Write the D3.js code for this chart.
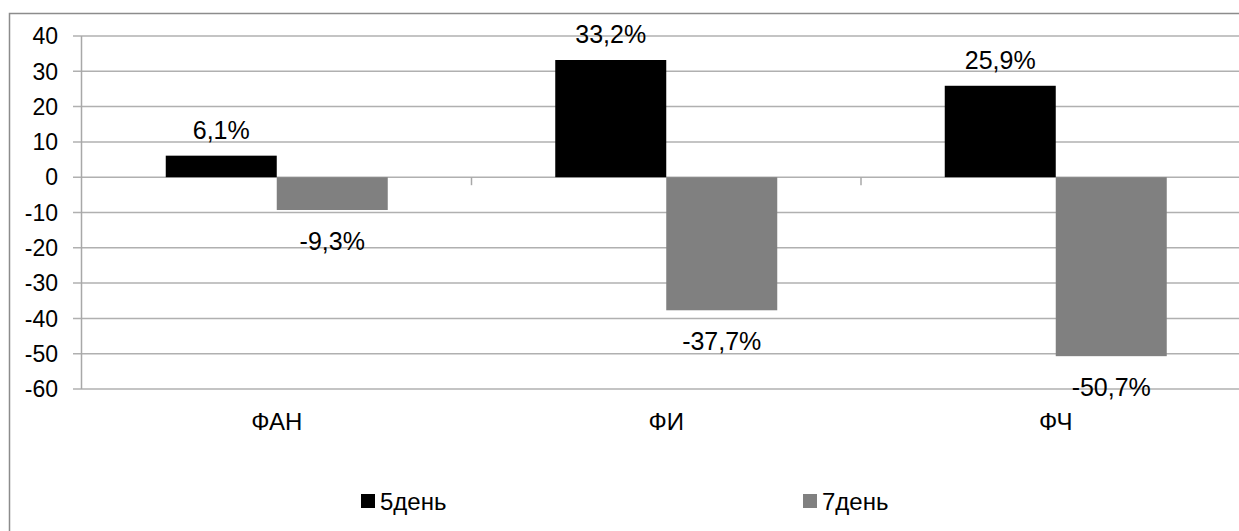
<!DOCTYPE html>
<html>
<head>
<meta charset="utf-8">
<script src="https://cdn.jsdelivr.net/npm/d3@7"></script>
<style>
  html, body { margin: 0; background: #fff; overflow: hidden; }
  svg { display: block; font-family: "Liberation Sans", Arial, sans-serif; }
</style>
</head>
<body>
<div id="chart"></div>
<script>
const categories = ['ФАН', 'ФИ', 'ФЧ'];
const seriesNames = ['5день', '7день'];
const day5 = [6.1, 33.2, 25.9];
const day7 = [-9.3, -37.7, -50.7];
const yTicks = [40, 30, 20, 10, 0, -10, -20, -30, -40, -50, -60];
const colors = ['#000000', '#808080'];

const width = 1239;
const height = 531;

const svg = d3.select('#chart')
  .append('svg')
  .attr('width', width)
  .attr('height', height);

// outer chart frame (right and bottom fall outside the picture)
svg.append('rect')
  .attr('x', 9.5)
  .attr('y', 13.5)
  .attr('width', 1300)
  .attr('height', 600)
  .attr('fill', 'none')
  .attr('stroke', '#8c8c8c')
  .attr('stroke-width', 1.5);

const x0 = d3.scaleBand()
  .domain(categories)
  .range([82, 1250.5]);

// bar pair is 222px wide, centred in each 389.5px band
const x1 = d3.scaleBand()
  .domain(seriesNames)
  .range([(x0.bandwidth() - 222) / 2, (x0.bandwidth() + 222) / 2]);

const y = d3.scaleLinear()
  .domain([-60, 40])
  .range([389, 36]);

// gridlines
svg.append('g')
  .selectAll('line')
  .data(yTicks)
  .join('line')
  .attr('x1', 73)
  .attr('x2', width)
  .attr('y1', d => y(d))
  .attr('y2', d => y(d))
  .attr('stroke', '#b0b0b0')
  .attr('stroke-width', 1.5);

// y axis line
svg.append('line')
  .attr('x1', 81.5).attr('x2', 81.5)
  .attr('y1', y(40)).attr('y2', y(-60))
  .attr('stroke', '#a8a8a8')
  .attr('stroke-width', 1.5);

// y tick labels
svg.append('g')
  .selectAll('text')
  .data(yTicks)
  .join('text')
  .attr('x', 58)
  .attr('y', d => y(d))
  .attr('dy', '0.36em')
  .attr('text-anchor', 'end')
  .attr('font-size', 23)
  .attr('fill', '#000')
  .text(d => d);

// category ticks on zero line
svg.append('g')
  .selectAll('line')
  .data(categories.slice(1))
  .join('line')
  .attr('x1', d => x0(d))
  .attr('x2', d => x0(d))
  .attr('y1', y(0))
  .attr('y2', y(0) + 8)
  .attr('stroke', '#a8a8a8')
  .attr('stroke-width', 1.5);

const rows = categories.map((c, i) => ({
  cat: c,
  vals: [
    { key: seriesNames[0], v: day5[i], color: colors[0] },
    { key: seriesNames[1], v: day7[i], color: colors[1] }
  ]
}));

const groups = svg.append('g')
  .selectAll('g')
  .data(rows)
  .join('g')
  .attr('transform', d => `translate(${x0(d.cat)},0)`);

groups.selectAll('rect')
  .data(d => d.vals)
  .join('rect')
  .attr('x', d => x1(d.key))
  .attr('width', x1.bandwidth())
  .attr('y', d => y(Math.max(0, d.v)))
  .attr('height', d => Math.abs(y(d.v) - y(0)))
  .attr('fill', d => d.color);

const fmt = v => v.toFixed(1).replace('.', ',') + '%';

groups.selectAll('text.lbl')
  .data(d => d.vals)
  .join('text')
  .attr('class', 'lbl')
  .attr('x', d => x1(d.key) + x1.bandwidth() / 2)
  .attr('y', d => d.v >= 0 ? y(d.v) - 26 : y(d.v) + 31)
  .attr('dy', '0.36em')
  .attr('text-anchor', 'middle')
  .attr('font-size', 25)
  .attr('fill', '#000')
  .text(d => fmt(d.v));

// category labels
svg.append('g')
  .selectAll('text')
  .data(categories)
  .join('text')
  .attr('x', d => x0(d) + x0.bandwidth() / 2)
  .attr('y', 421)
  .attr('dy', '0.36em')
  .attr('text-anchor', 'middle')
  .attr('font-size', 24)
  .attr('fill', '#000')
  .text(d => d);

// legend
const legendX = [361, 803];
const legend = svg.append('g')
  .selectAll('g')
  .data(seriesNames)
  .join('g')
  .attr('transform', (d, i) => `translate(${legendX[i]},501)`);

legend.append('rect')
  .attr('x', 0)
  .attr('y', -7)
  .attr('width', 14)
  .attr('height', 14)
  .attr('fill', (d, i) => colors[i]);

legend.append('text')
  .attr('x', 19)
  .attr('y', 0)
  .attr('dy', '0.36em')
  .attr('font-size', 24)
  .attr('fill', '#000')
  .text(d => d);
</script>
</body>
</html>
